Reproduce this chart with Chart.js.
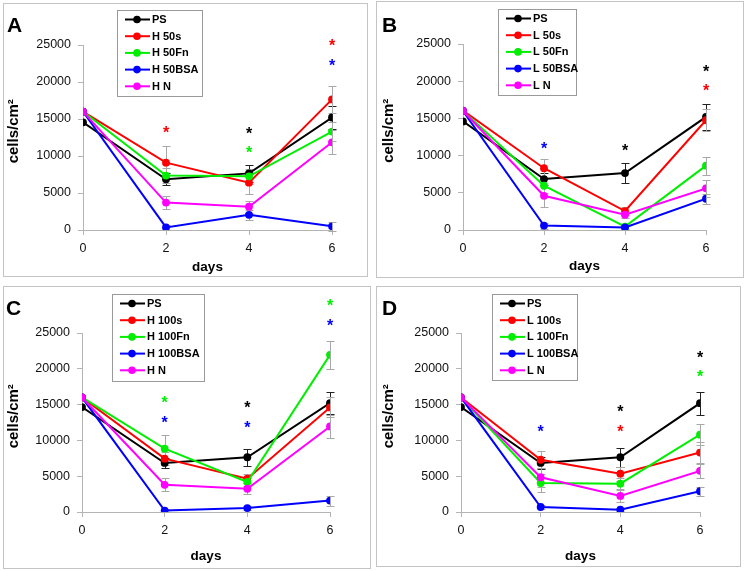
<!DOCTYPE html>
<html><head><meta charset="utf-8">
<script src="https://cdn.jsdelivr.net/npm/chart.js@4.4.1/dist/chart.umd.min.js"></script>
<style>
body{margin:0;background:#fff;width:747px;height:571px;position:relative;overflow:hidden;font-family:"Liberation Sans",Arial,sans-serif}
.panel{position:absolute;border:1px solid #c4c4c4}
.panel canvas{display:block}
</style></head><body>
<div class="panel" style="left:3px;top:3px;width:363px;height:272px"><canvas id="cA" width="363" height="272"></canvas></div>
<div class="panel" style="left:376px;top:1px;width:366px;height:275px"><canvas id="cB" width="366" height="275"></canvas></div>
<div class="panel" style="left:3px;top:286px;width:366px;height:281px"><canvas id="cC" width="366" height="281"></canvas></div>
<div class="panel" style="left:376px;top:286px;width:363px;height:279px"><canvas id="cD" width="363" height="279"></canvas></div>
<script>
// ---------- shared data ----------
const days = [0, 2, 4, 6];
const yMin = 0, yMax = 25000, yStep = 5000;
const xStep = 2;
const xTitle = 'days';
const yTitle = '   cells/cm\u00B2';
const seriesColors = ['#000000', '#ff0000', '#00ee00', '#0000ff', '#ff00ff'];

// ---------- Panel A ----------
const namesA = ['PS', 'H 50s', 'H 50Fn', 'H 50BSA', 'H N'];
const aPS    = [14550, 6850, 7650, 15200];
const aH50s  = [16000, 9100, 6400, 17650];
const aH50Fn = [16000, 7350, 7250, 13300];
const aH50BSA= [16000, 350, 2050, 500];
const aHN    = [16000, 3700, 3150, 11850];
const eAPS    = [0, 800, 1200, 1500];
const eAH50s  = [0, 2200, 1500, 1800];
const eAH50Fn = [0, 1000, 1000, 1300];
const eAH50BSA= [0, 300, 700, 600];
const eAHN    = [0, 900, 800, 1600];
const starDaysA   = [2, 4, 4, 6, 6];
const starValsA   = [13700, 13600, 10950, 25450, 22750];
const starSeriesA = [1, 0, 2, 1, 3];

// ---------- Panel B ----------
const namesB = ['PS', 'L 50s', 'L 50Fn', 'L 50BSA', 'L N'];
const bPS    = [14600, 6850, 7650, 15200];
const bL50s  = [16050, 8300, 2550, 14750];
const bL50Fn = [16000, 5950, 450, 8650];
const bL50BSA= [16000, 600, 350, 4200];
const bLN    = [16000, 4600, 2050, 5600];
const eBPS    = [0, 800, 1300, 1700];
const eBL50s  = [0, 1300, 500, 1500];
const eBL50Fn = [0, 1000, 300, 1200];
const eBL50BSA= [0, 400, 300, 700];
const eBLN    = [0, 1500, 500, 1100];
const starDaysB   = [2, 4, 6, 6];
const starValsB   = [11500, 11250, 21850, 19250];
const starSeriesB = [3, 0, 0, 1];

// ---------- Panel C ----------
const namesC = ['PS', 'H 100s', 'H 100Fn', 'H 100BSA', 'H N'];
const cPS     = [14650, 6850, 7650, 15200];
const cH100s  = [16000, 7450, 4650, 14600];
const cH100Fn = [16000, 8850, 4200, 21950];
const cH100BSA= [16000, 200, 550, 1600];
const cHN     = [16000, 3800, 3250, 11950];
const eCPS     = [0, 700, 1200, 1500];
const eCH100s  = [0, 900, 600, 1400];
const eCH100Fn = [0, 1900, 600, 2000];
const eCH100BSA= [0, 200, 300, 700];
const eCHN     = [0, 900, 800, 1600];
const starDaysC   = [2, 2, 4, 4, 6, 6];
const starValsC   = [15850, 13050, 15150, 12300, 29400, 26650];
const starSeriesC = [2, 3, 0, 3, 2, 3];

// ---------- Panel D ----------
const namesD = ['PS', 'L 100s', 'L 100Fn', 'L 100BSA', 'L N'];
const dPS     = [14650, 6850, 7650, 15200];
const dL100s  = [16000, 7300, 5350, 8300];
const dL100Fn = [16000, 4050, 3950, 10800];
const dL100BSA= [16000, 700, 330, 2900];
const dLN     = [16000, 4850, 2250, 5750];
const eDPS     = [0, 800, 1300, 1600];
const eDL100s  = [0, 1200, 1000, 1500];
const eDL100Fn = [0, 1200, 800, 1500];
const eDL100BSA= [0, 300, 200, 600];
const eDLN     = [0, 1300, 800, 1000];
const starDaysD   = [2, 4, 4, 6, 6];
const starValsD   = [11750, 14600, 11850, 22200, 19500];
const starSeriesD = [3, 0, 1, 0, 2];

// ---------- decoration plugin (error bars, stars, legend, panel letter) ----------
const deco = {
  id: 'deco',
  beforeDatasetsDraw(chart) {
    const ctx = chart.ctx, xs = chart.scales.x, ys = chart.scales.y;
    ctx.save();
    ctx.lineWidth = 1;
    chart.data.datasets.forEach((ds, i) => {
      if (!ds.errors) return;
      ctx.strokeStyle = i === 0 ? '#222' : '#a8a8a8';
      ds.data.forEach((p, j) => {
        const e = ds.errors[j];
        if (!e) return;
        const x = Math.round(xs.getPixelForValue(p.x)) + 0.5;
        const yt = Math.round(ys.getPixelForValue(p.y + e)) + 0.5;
        const yb = Math.round(ys.getPixelForValue(p.y - e)) + 0.5;
        ctx.beginPath();
        ctx.moveTo(x, yt); ctx.lineTo(x, yb);
        ctx.moveTo(x - 4, yt); ctx.lineTo(x + 4, yt);
        ctx.moveTo(x - 4, yb); ctx.lineTo(x + 4, yb);
        ctx.stroke();
      });
    });
    ctx.restore();
  },
  afterDraw(chart, args, o) {
    const ctx = chart.ctx, xs = chart.scales.x, ys = chart.scales.y;
    const dsets = chart.data.datasets;
    ctx.save();
    // stars
    ctx.font = 'bold 16px "Liberation Sans", Arial, sans-serif';
    ctx.textAlign = 'center';
    ctx.textBaseline = 'alphabetic';
    o.starDays.forEach((d, k) => {
      ctx.fillStyle = dsets[o.starSeries[k]].borderColor;
      ctx.fillText('*', xs.getPixelForValue(d), ys.getPixelForValue(o.starVals[k]) + 9.5);
    });
    // legend
    const L = o.legend;
    ctx.strokeStyle = '#9a9a9a';
    ctx.lineWidth = 1;
    ctx.strokeRect(L.x + 0.5, L.y + 0.5, L.w, L.h);
    ctx.textAlign = 'left';
    ctx.textBaseline = 'middle';
    ctx.font = 'bold 11px "Liberation Sans", Arial, sans-serif';
    dsets.forEach((ds, i) => {
      const cy = L.y + 9.5 + i * 16.7;
      ctx.strokeStyle = ds.borderColor;
      ctx.lineWidth = 2;
      ctx.beginPath();
      ctx.moveTo(L.x + 8, cy); ctx.lineTo(L.x + 33, cy);
      ctx.stroke();
      ctx.fillStyle = ds.borderColor;
      ctx.beginPath();
      ctx.arc(L.x + 20, cy, 3.8, 0, Math.PI * 2);
      ctx.fill();
      ctx.fillStyle = '#000';
      ctx.fillText(ds.label, L.x + 35, cy + 0.5);
    });
    // panel letter
    ctx.font = 'bold 21px "Liberation Sans", Arial, sans-serif';
    ctx.textAlign = 'left';
    ctx.textBaseline = 'alphabetic';
    ctx.fillStyle = '#000';
    ctx.fillText(o.letter, o.letterX, o.letterY);
    ctx.restore();
  }
};

function buildPanel(id, names, values, errors, starDays, starVals, starSeries, g) {
  const canvas = document.getElementById(id);
  const W = canvas.width, H = canvas.height;
  const n = names.length;
  const datasets = names.map((name, i) => ({
    label: name,
    data: values[i].map((v, j) => ({ x: days[j], y: v })),
    errors: errors[i],
    borderColor: seriesColors[i],
    backgroundColor: seriesColors[i],
    pointBackgroundColor: seriesColors[i],
    pointBorderWidth: 0,
    pointRadius: 3.9,
    borderWidth: 2,
    tension: 0,
    order: n - i
  }));
  const axisGrey = '#b4b4b4';
  const tickFont = { size: 12.5, family: '"Liberation Sans", Arial' };
  return new Chart(canvas, {
    type: 'line',
    data: { datasets },
    options: {
      responsive: false,
      animation: false,
      events: [],
      layout: { padding: { top: g.top, right: W - g.right, left: 0, bottom: 0 } },
      plugins: {
        legend: { display: false },
        tooltip: { enabled: false },
        deco: { starDays, starVals, starSeries, legend: g.legend, letter: g.letter, letterX: g.letterX, letterY: g.letterY }
      },
      scales: {
        x: {
          type: 'linear', min: days[0], max: days[days.length - 1],
          ticks: { stepSize: xStep, padding: 6, color: '#111', font: tickFont, callback: v => String(v) },
          grid: { drawOnChartArea: false, drawTicks: true, tickLength: 5, color: axisGrey },
          border: { color: axisGrey, width: 1 },
          title: { display: true, text: xTitle, color: '#000', padding: { top: 0, bottom: g.xtPad }, font: { size: 13.5, weight: 'bold', family: '"Liberation Sans", Arial' } },
          afterFit: s => { s.height = H - g.bottom; }
        },
        y: {
          min: yMin, max: yMax,
          ticks: { stepSize: yStep, padding: 7, color: '#111', font: tickFont, callback: v => String(v) },
          grid: { drawOnChartArea: false, drawTicks: true, tickLength: 5, color: axisGrey },
          border: { color: axisGrey, width: 1 },
          title: { display: true, text: yTitle, color: '#000', padding: { top: g.ytPad, bottom: 0 }, font: { size: 15, weight: 'bold', family: '"Liberation Sans", Arial' } },
          afterFit: s => { s.width = g.left; }
        }
      }
    },
    plugins: [deco]
  });
}

buildPanel('cA', namesA, [aPS, aH50s, aH50Fn, aH50BSA, aHN], [eAPS, eAH50s, eAH50Fn, eAH50BSA, eAHN],
  starDaysA, starValsA, starSeriesA,
  { left: 79, right: 328, top: 41, bottom: 226, xtPad: 1, ytPad: 0.5, legend: { x: 113, y: 6, w: 85, h: 86 }, letter: 'A', letterX: 3, letterY: 28 });
buildPanel('cB', namesB, [bPS, bL50s, bL50Fn, bL50BSA, bLN], [eBPS, eBL50s, eBL50Fn, eBL50BSA, eBLN],
  starDaysB, starValsB, starSeriesB,
  { left: 86, right: 329, top: 42, bottom: 228, xtPad: 2.5, ytPad: 3, legend: { x: 121, y: 7, w: 78, h: 86 }, letter: 'B', letterX: 5, letterY: 30 });
buildPanel('cC', namesC, [cPS, cH100s, cH100Fn, cH100BSA, cHN], [eCPS, eCH100s, eCH100Fn, eCH100BSA, eCHN],
  starDaysC, starValsC, starSeriesC,
  { left: 78, right: 326, top: 46, bottom: 225, xtPad: 3.5, ytPad: 0.5, legend: { x: 108, y: 7, w: 92, h: 87 }, letter: 'C', letterX: 2, letterY: 28 });
buildPanel('cD', namesD, [dPS, dL100s, dL100Fn, dL100BSA, dLN], [eDPS, eDL100s, eDL100Fn, eDL100BSA, eDLN],
  starDaysD, starValsD, starSeriesD,
  { left: 84, right: 323, top: 46, bottom: 225, xtPad: 1.5, ytPad: 3, legend: { x: 115, y: 7, w: 85, h: 86 }, letter: 'D', letterX: 5, letterY: 28 });
</script>
</body></html>
